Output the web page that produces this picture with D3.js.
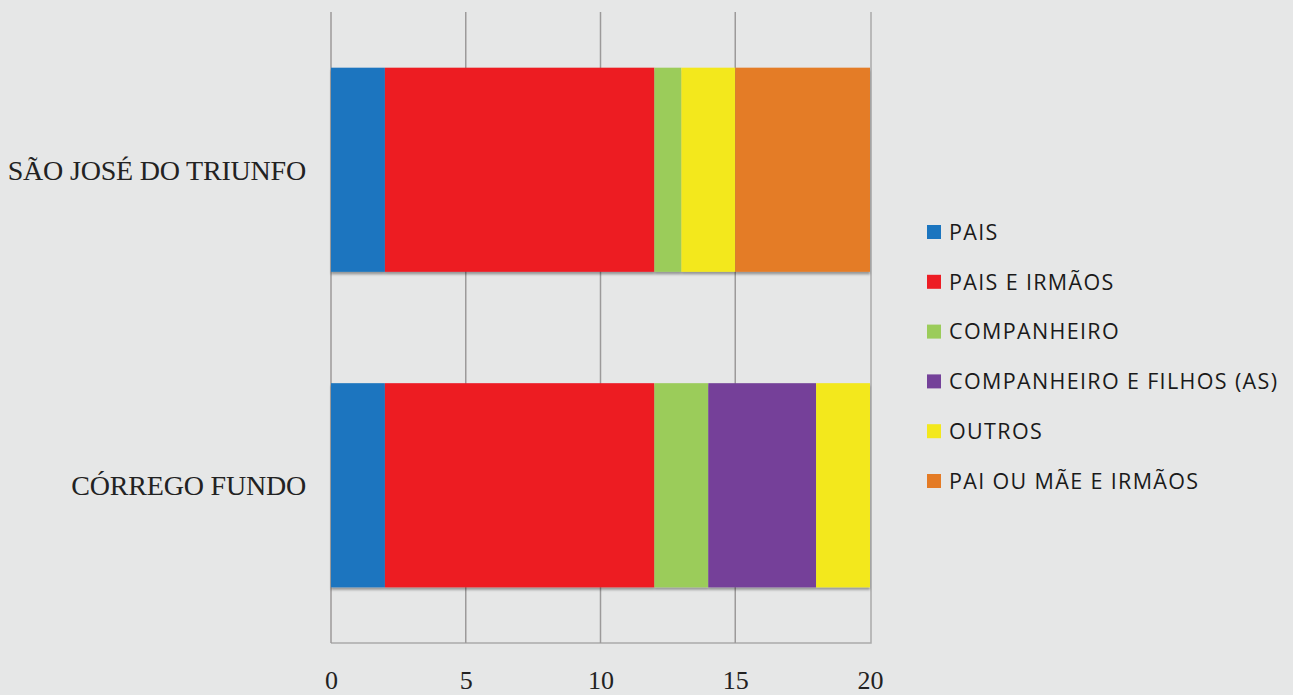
<!DOCTYPE html>
<html>
<head>
<meta charset="utf-8">
<script src="https://cdn.jsdelivr.net/npm/d3@7"></script>
<style>
  html, body { margin: 0; padding: 0; background: #e6e7e7; }
  svg { display: block; }
</style>
</head>
<body>
<svg id="chart" width="1293" height="695"></svg>
<script>
// Household composition by locality (stacked horizontal bars)
const localities = ["SÃO JOSÉ DO TRIUNFO", "CÓRREGO FUNDO"];
const seriesNames = ["PAIS", "PAIS E IRMÃOS", "COMPANHEIRO", "COMPANHEIRO E FILHOS (AS)", "OUTROS", "PAI OU MÃE E IRMÃOS"];
const seriesColors = ["#1b75bf", "#ed1d24", "#9bcc5a", "#744199", "#f3e81c", "#e47b25"];
const paisValues = [2, 2];
const paisIrmaosValues = [10, 10];
const companheiroValues = [1, 2];
const companheiroFilhosValues = [0, 4];
const outrosValues = [2, 2];
const paiOuMaeValues = [5, 0];
const xTicks = [0, 5, 10, 15, 20];

const seriesValues = [paisValues, paisIrmaosValues, companheiroValues, companheiroFilhosValues, outrosValues, paiOuMaeValues];
const rows = localities.map((loc, i) => {
  const r = { locality: loc };
  seriesNames.forEach((s, k) => { r[s] = seriesValues[k][i]; });
  return r;
});
const stacked = d3.stack().keys(seriesNames)(rows);

const svg = d3.select("#chart");
const plot = { left: 331, right: 871, top: 12, bottom: 643 };

const x = d3.scaleLinear().domain([0, 20]).range([plot.left, plot.right - 1]);
const y = d3.scaleBand().domain(localities).range([plot.top, plot.bottom]).paddingInner(0.353).paddingOuter(0.1765);

const defs = svg.append("defs");
const f = defs.append("filter").attr("id", "shadow").attr("x", "-5%").attr("y", "-5%").attr("width", "110%").attr("height", "115%");
f.append("feDropShadow").attr("dx", 0).attr("dy", 2.5).attr("stdDeviation", 1.2)
  .attr("flood-color", "#000").attr("flood-opacity", 0.35);

// plot frame (right and bottom)
svg.append("path")
  .attr("d", `M${plot.right},${plot.top}V${plot.bottom}H${plot.left}`)
  .attr("fill", "none").attr("stroke", "#ababab").attr("stroke-width", 1.5);

// vertical gridlines
svg.append("g").selectAll("line").data(xTicks.slice(0, -1)).join("line")
  .attr("x1", d => x(d)).attr("x2", d => x(d))
  .attr("y1", plot.top).attr("y2", plot.bottom)
  .attr("stroke", "#9c9a9a").attr("stroke-width", 1.5);

// stacked bars
const barGroup = svg.append("g").attr("filter", "url(#shadow)");
stacked.forEach((layer, k) => {
  barGroup.append("g").attr("fill", seriesColors[k])
    .selectAll("rect").data(layer.filter(d => d[1] > d[0])).join("rect")
    .attr("x", d => x(d[0]))
    .attr("width", d => x(d[1]) - x(d[0]))
    .attr("y", d => y(d.data.locality))
    .attr("height", y.bandwidth());
});

// x axis tick labels
const xAxis = d3.axisBottom(x).tickValues(xTicks).tickSize(0).tickPadding(0);
const gx = svg.append("g").attr("transform", `translate(0,${plot.bottom})`).call(xAxis);
gx.select(".domain").remove();
gx.selectAll("text")
  .attr("dy", null).attr("y", 46)
  .attr("font-family", "'Liberation Serif', 'DejaVu Serif', serif")
  .attr("font-size", 26).attr("fill", "#222");

// category labels
const yAxis = d3.axisLeft(y).tickSize(0).tickPadding(0);
const gy = svg.append("g").attr("transform", `translate(306,0)`).call(yAxis);
gy.select(".domain").remove();
gy.selectAll("text")
  .attr("x", 0).attr("dy", "0.35em")
  .attr("font-family", "'Liberation Serif', 'DejaVu Serif', serif")
  .attr("font-size", 28).attr("letter-spacing", -0.2).attr("fill", "#222");

// legend
const legend = svg.append("g").attr("transform", "translate(927,232)");
const item = legend.selectAll("g").data(seriesNames).join("g")
  .attr("transform", (d, i) => `translate(0,${i * 49.8})`);
item.append("rect").attr("x", 0).attr("y", -7).attr("width", 14).attr("height", 14)
  .attr("fill", (d, i) => seriesColors[i]);
const labels = item.append("text").attr("x", 22).attr("y", 0).attr("dy", "0.36em")
  .attr("font-family", "'Open Sans', Lato, sans-serif").attr("font-size", 21.5)
  .attr("fill", "#1a1a1a").text(d => d);

// stretch legend labels so the longest one spans its column
const longest = labels.filter(d => d === "COMPANHEIRO E FILHOS (AS)").node();
const natural = longest.getComputedTextLength();
const spacing = Math.max(0, (328 - natural) / (longest.textContent.length - 1));
labels.attr("letter-spacing", spacing);
</script>
</body>
</html>
